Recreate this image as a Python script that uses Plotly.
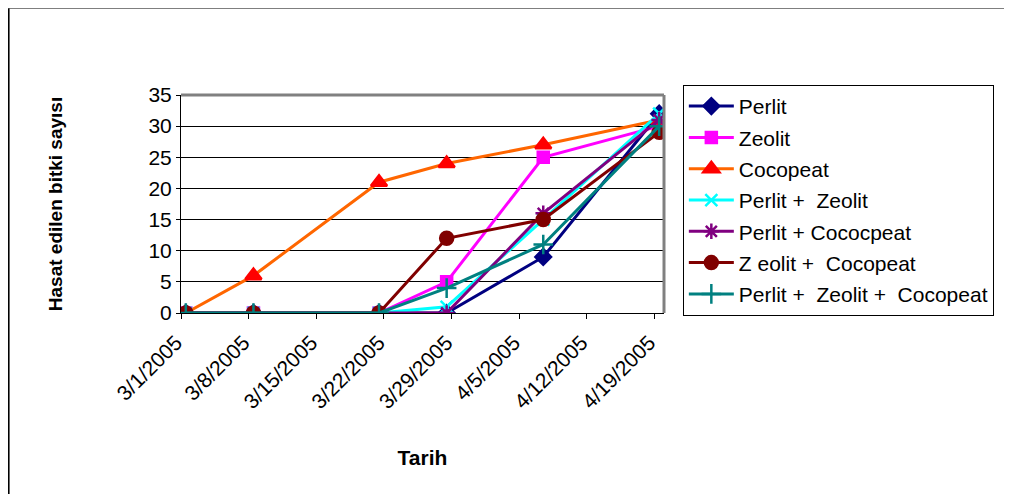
import plotly.graph_objects as go
import pandas as pd

dates = ["2005-03-01", "2005-03-08", "2005-03-21", "2005-03-28", "2005-04-07", "2005-04-19"]
tick_labels = ["3/1/2005", "3/8/2005", "3/15/2005", "3/22/2005", "3/29/2005", "4/5/2005", "4/12/2005", "4/19/2005"]

perlit = [0, 0, 0, 0, 9, 32]
zeolit = [0, 0, 0, 5, 25, 30]
cocopeat = [0, 6, 21, 24, 27, 31]
perlit_zeolit = [0, 0, 0, 1, 15, 32]
perlit_cocopeat = [0, 0, 0, 0, 16, 31]
zeolit_cocopeat = [0, 0, 0, 12, 15, 29]
perlit_zeolit_cocopeat = [0, 0, 0, 4, 11, 30]

series = [
    ("Perlit", perlit, "#000080", "#000080", "diamond", 12),
    ("Zeolit", zeolit, "#FF00FF", "#FF00FF", "square", 11),
    ("Cocopeat", cocopeat, "#FF6600", "#FF0000", "triangle-up", 14),
    ("Perlit +  Zeolit", perlit_zeolit, "#00FFFF", "#00FFFF", "x-thin-open", 12),
    ("Perlit + Cococpeat", perlit_cocopeat, "#800080", "#800080", "asterisk-open", 13),
    ("Z eolit +  Cocopeat", zeolit_cocopeat, "#800000", "#800000", "circle", 13),
    ("Perlit +  Zeolit +  Cocopeat", perlit_zeolit_cocopeat, "#008080", "#008080", "cross-thin-open", 14),
]

FONT = "Arial, Liberation Sans, sans-serif"
fig = go.Figure()
for i, (name, vals, lc, mc, sym, sz) in enumerate(series):
    fig.add_trace(go.Scatter(
        x=pd.to_datetime(dates), y=vals, name=name, mode="lines+markers",
        legendgroup=str(i),
        line=dict(color=lc, width=3),
        marker=dict(symbol=sym, size=sz, color=mc, line=dict(color=mc, width=2.5)),
    ))

half = pd.Timedelta(hours=12)
tickvals = [pd.to_datetime(t) - half for t in tick_labels]

fig.update_layout(
    width=1004, height=486,
    margin=dict(l=173, r=348, t=87, b=181, autoexpand=False),
    paper_bgcolor="white", plot_bgcolor="white",
    font=dict(family=FONT, size=20, color="black"),
    showlegend=True,
    legend=dict(
        x=1.039, y=1.046, xanchor="left", yanchor="top",
        bordercolor="black", borderwidth=1,
        font=dict(family=FONT, size=21, color="black"),
        tracegroupgap=1, itemwidth=45,
    ),
    xaxis=dict(
        type="date",
        range=[pd.to_datetime("2005-03-01") - half, pd.to_datetime("2005-04-20") - half],
        tickvals=tickvals, ticktext=tick_labels, tickangle=-45,
        showgrid=False, ticks="outside", ticklen=5, tickcolor="black",
        showline=True, linecolor="black", linewidth=1,
        tickfont=dict(family=FONT, size=21),
        ticklabelshift=-5, ticklabelstandoff=3,
        title=dict(text="<b>Tarih</b>", font=dict(family=FONT, size=21), standoff=38),
    ),
    yaxis=dict(
        range=[0, 35], dtick=5, tick0=0,
        showgrid=True, gridcolor="black", gridwidth=1,
        ticks="outside", ticklen=4, tickcolor="black",
        showline=True, linecolor="black", linewidth=1,
        zeroline=False,
        tickfont=dict(family=FONT, size=21),
        title=dict(text="<b>Hasat edilen bitki sayısı</b>", font=dict(family=FONT, size=19), standoff=80),
    ),
    shapes=[
        dict(type="line", xref="paper", yref="paper", x0=0, x1=1, y0=1, y1=1,
             line=dict(color="#808080", width=3), layer="above"),
        dict(type="line", xref="paper", yref="paper", x0=1, x1=1, y0=0, y1=1,
             line=dict(color="#808080", width=3), layer="above"),
        dict(type="line", xref="paper", yref="paper", x0=-0.358, x1=-0.358, y0=-1, y1=1.399,
             line=dict(color="black", width=3)),
        dict(type="line", xref="paper", yref="paper", x0=-0.358, x1=2, y0=1.403, y1=1.403,
             line=dict(color="#555555", width=3)),
    ],
)

fig.write_html("out.html")
